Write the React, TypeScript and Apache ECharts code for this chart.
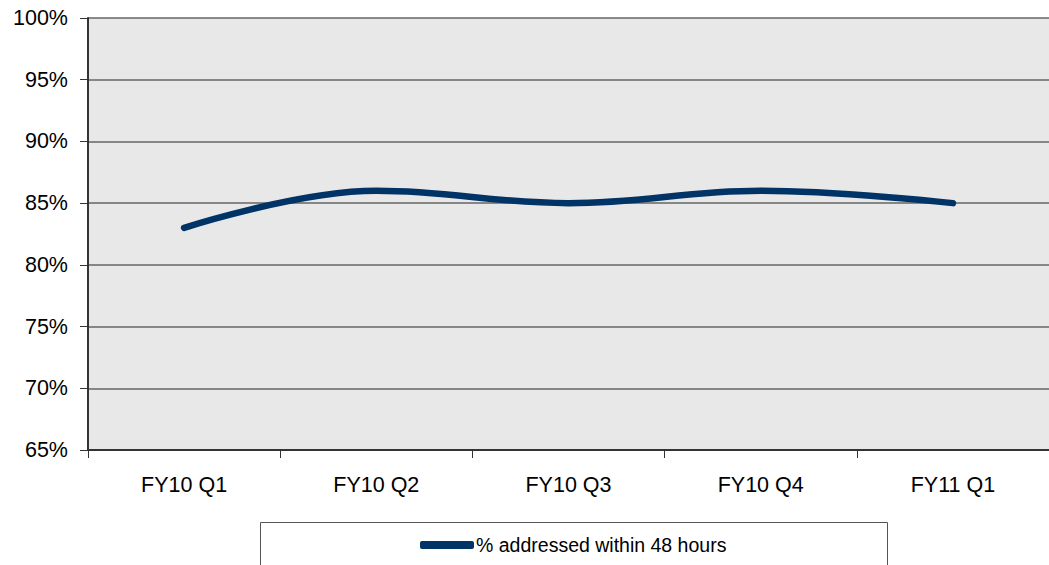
import React, { useEffect, useRef } from "react";
import * as echarts from "echarts";

const categories = ["FY10 Q1", "FY10 Q2", "FY10 Q3", "FY10 Q4", "FY11 Q1"];
const values = [83, 86, 85, 86, 85];
const seriesName = "% addressed within 48 hours";

export default function App() {
  const ref = useRef<HTMLDivElement>(null);
  useEffect(() => {
    const chart = echarts.init(ref.current!, null, { renderer: "svg" });
    chart.setOption({
      animation: false,
      textStyle: { fontFamily: "Liberation Sans, Arial, sans-serif" },
      grid: { left: 88, top: 18, bottom: 115, width: 968, backgroundColor: "#e8e8e8", show: true, borderWidth: 0 },
      xAxis: {
        type: "category",
        data: categories,
        boundaryGap: true,
        axisLine: { lineStyle: { color: "#333", width: 2 } },
        axisTick: { show: true, length: 8, lineStyle: { color: "#333", width: 1 } },
        axisLabel: { color: "#000", fontSize: 21.5, margin: 24 },
      },
      yAxis: {
        type: "value",
        min: 65,
        max: 100,
        interval: 5,
        axisLine: { show: true, lineStyle: { color: "#333", width: 2 } },
        axisTick: { show: true, length: 8, lineStyle: { color: "#333", width: 1 } },
        axisLabel: { color: "#000", fontSize: 21.5, margin: 20, formatter: "{value}%" },
        splitLine: { show: true, lineStyle: { color: "#666", width: 1.5 } },
      },
      legend: {
        data: [seriesName],
        left: 415,
        top: 530,
        icon: "roundRect",
        itemWidth: 54,
        itemHeight: 8,
        itemGap: 2,
        textStyle: { color: "#000", fontSize: 19.5, padding: [0, 0, 0, -3] },
      },
      graphic: [
        {
          type: "rect",
          shape: { x: 260.5, y: 522.5, width: 627, height: 60 },
          style: { fill: "#fff", stroke: "#555", lineWidth: 1 },
          z: -1,
        },
      ],
      series: [
        {
          name: seriesName,
          type: "line",
          data: values,
          smooth: 0.4,
          showSymbol: false,
          symbol: "none",
          lineStyle: { color: "#003366", width: 6.5, cap: "round" },
          itemStyle: { color: "#003366" },
        },
      ],
    });
    return () => chart.dispose();
  }, []);
  return <div ref={ref} style={{ width: 1049, height: 565, position: "absolute", left: 0, top: 0 }} />;
}
